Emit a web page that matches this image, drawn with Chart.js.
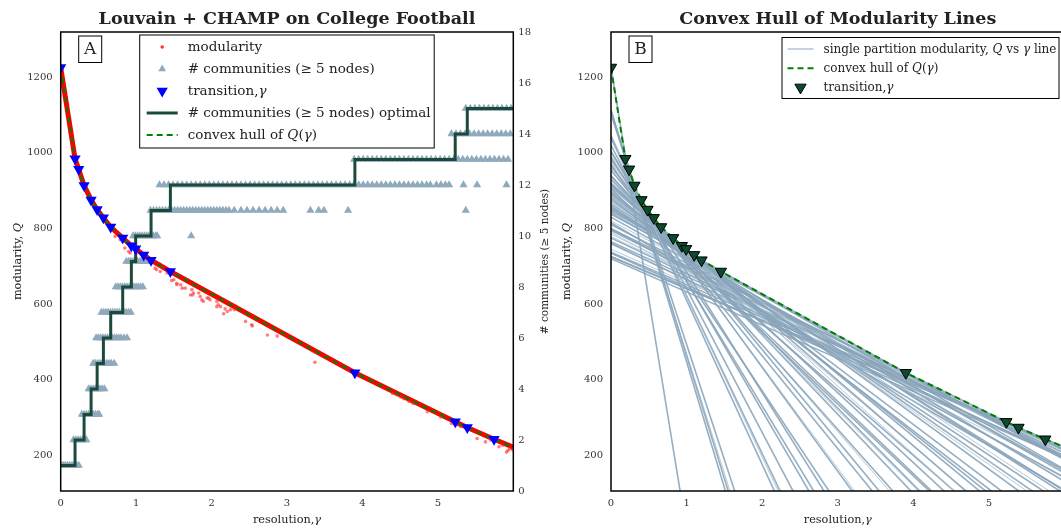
<!DOCTYPE html>
<html>
<head>
<meta charset="utf-8">
<title>Louvain + CHAMP on College Football</title>
<script src="https://cdn.jsdelivr.net/npm/chart.js@4/dist/chart.umd.min.js"></script>
<style>
  html, body { margin: 0; padding: 0; background: #fff; overflow: hidden; }
  #chartA { position: absolute; left: 0; top: 0; }
  #chartB { position: absolute; left: 555px; top: 0; }
</style>
</head>
<body>
<canvas id="chartA" width="555" height="528"></canvas>
<canvas id="chartB" width="520" height="528"></canvas>
<script>
// ---- values ----
const xTicks = [0, 1, 2, 3, 4, 5];
const qTicks = [200, 400, 600, 800, 1000, 1200];
const countTicks = [0, 2, 4, 6, 8, 10, 12, 14, 16, 18];

// transitions of the optimal partition (resolution, modularity)
const transGamma = [0, 0.19, 0.239, 0.31, 0.403, 0.483, 0.566, 0.663, 0.822, 0.937, 0.994, 1.10, 1.198, 1.454, 3.90, 5.23, 5.39, 5.745];
const transQ = [1226, 984.5, 956.5, 913.8, 875.5, 850, 828, 803.8, 775, 754.2, 746, 730, 716, 686, 418, 288, 273, 242];
const hullEndGamma = 6.0;
const hullEndQ = 221;

// number of communities (>= 5 nodes) of the optimal partition
const stepGamma = [0, 0.19, 0.31, 0.403, 0.483, 0.566, 0.663, 0.822, 0.937, 0.994, 1.198, 1.454, 3.90, 5.23, 5.39, 6.0];
const stepCount = [1, 2, 3, 4, 5, 6, 7, 8, 9, 10, 11, 12, 13, 14, 15, 15];

// resolutions of the Louvain runs, grouped by number of communities found
const comm1 = [0, 0.03, 0.06, 0.09, 0.12, 0.15, 0.18, 0.21, 0.24];
const comm2 = [0.17, 0.20, 0.23, 0.26, 0.29, 0.32, 0.34];
const comm3 = [0.28, 0.31, 0.34, 0.37, 0.40, 0.43, 0.46, 0.49, 0.51];
const comm4 = [0.37, 0.40, 0.43, 0.46, 0.49, 0.52, 0.55, 0.58];
const comm5 = [0.43, 0.46, 0.49, 0.52, 0.55, 0.58, 0.61, 0.64, 0.67, 0.71];
const comm6 = [0.47, 0.50, 0.53, 0.56, 0.59, 0.62, 0.65, 0.68, 0.71, 0.74, 0.77, 0.80, 0.84, 0.88];
const comm7 = [0.54, 0.57, 0.60, 0.63, 0.66, 0.69, 0.72, 0.75, 0.78, 0.81, 0.84, 0.87, 0.90, 0.93];
const comm8 = [0.73, 0.76, 0.79, 0.82, 0.85, 0.88, 0.91, 0.94, 0.97, 1.00, 1.03, 1.06, 1.09];
const comm9 = [0.87, 0.90, 0.93, 0.96, 0.99, 1.02, 1.05, 1.08, 1.11, 1.14, 1.17, 1.21];
const comm10 = [0.96, 0.99, 1.02, 1.05, 1.08, 1.11, 1.14, 1.17, 1.20, 1.23, 1.26, 1.28, 1.73];
const comm11 = [1.19, 1.23, 1.27, 1.31, 1.35, 1.39, 1.43, 1.47, 1.51, 1.55, 1.59, 1.63, 1.67, 1.71, 1.75,
  1.79, 1.83, 1.87, 1.91, 1.95, 1.99, 2.03, 2.07, 2.11, 2.15, 2.19, 2.23, 2.30,
  2.39, 2.47, 2.55, 2.63, 2.71, 2.79, 2.87, 2.95, 3.31, 3.42, 3.49, 3.81, 5.37];
const comm12 = [1.31, 1.37, 1.43, 1.49, 1.55, 1.61, 1.67, 1.73, 1.79, 1.85, 1.91, 1.97, 2.03, 2.09, 2.15,
  2.21, 2.27, 2.33, 2.39, 2.45, 2.51, 2.57, 2.63, 2.69, 2.75, 2.81, 2.87, 2.93, 2.99, 3.05, 3.11,
  3.17, 3.23, 3.29, 3.35, 3.41, 3.47, 3.53, 3.59, 3.65, 3.71, 3.77, 3.83, 3.89, 3.95, 4.01, 4.07,
  4.13, 4.19, 4.25, 4.31, 4.37, 4.43, 4.49, 4.55, 4.61, 4.67, 4.73, 4.79, 4.85, 4.90,
  4.98, 5.04, 5.10, 5.15, 5.34, 5.52, 5.91];
const comm13 = [3.89, 3.95, 4.01, 4.07, 4.13, 4.19, 4.25, 4.31, 4.37, 4.43, 4.49, 4.55, 4.61, 4.67, 4.73,
  4.79, 4.85, 4.91, 4.97, 5.03, 5.09, 5.15, 5.21, 5.27, 5.33, 5.39, 5.45, 5.51, 5.57, 5.63, 5.69,
  5.75, 5.81, 5.87, 5.93];
const comm14 = [5.18, 5.24, 5.30, 5.36, 5.42, 5.48, 5.54, 5.60, 5.66, 5.72, 5.78, 5.84, 5.90, 5.96];
const comm15 = [5.37, 5.43, 5.49, 5.55, 5.61, 5.67, 5.73, 5.79, 5.85, 5.91, 5.97];

// Louvain runs that ended below the hull
const modGamma = [0.72, 0.79, 0.85, 0.90, 0.92, 1.25, 1.27, 1.32, 1.41, 1.47, 1.50, 1.54, 1.54, 1.59, 1.61,
  1.65, 1.72, 1.74, 1.75, 1.76, 1.83, 1.85, 1.87, 1.89, 1.94, 1.96, 1.98, 2.07, 2.07, 2.09, 2.12,
  2.16, 2.18, 2.21, 2.25, 2.30, 2.45, 2.53, 2.54, 2.74, 2.87, 3.37, 4.40, 4.45, 4.51, 4.55, 4.62,
  4.67, 4.86, 5.04, 5.18, 5.25, 5.30, 5.52, 5.63, 5.70, 5.81, 5.86, 5.91, 5.93, 5.95, 5.99];
const modQ = [779, 770, 748, 739, 735, 695, 691, 686, 682, 662, 664, 655, 651, 651, 642,
  642, 624, 638, 624, 629, 629, 620, 611, 607, 616, 616, 611, 607, 593, 598, 593,
  574, 587, 580, 585, 585, 554, 545, 542, 518, 515, 446, 363, 360, 354, 349, 342,
  337, 315, 301, 284, 280, 276, 244, 235, 240, 222, 226, 208, 212, 217, 214];

// single partitions: Q(gamma) = partA - gamma * partP
const partA = [1226, 1113, 1103, 1046, 1003, 982, 963.5, 922.6, 916.8, 909.4, 890, 884, 854.5, 846.3, 799, 778.3, 737.1, 725,
  1113, 1103, 1045, 1040, 1003, 975, 955, 940, 930, 918, 915, 905, 895, 900, 880, 885, 860, 870,
  850, 842, 838, 820, 830, 810, 795, 785, 775, 765, 760, 745, 735, 726, 720, 762, 800, 855, 815, 790,
  970, 990, 1020, 952, 938, 920, 898, 875, 874, 865];
const partP = [1226, 650, 610, 425.6, 318.8, 275, 242, 180, 173, 165, 145.5, 140, 115.4, 109.8, 97.7, 93.75, 86.1, 84,
  666, 634, 435, 418, 343, 270, 246, 224, 202, 200, 191, 190, 174, 169, 154, 151, 132, 132,
  120, 115, 108, 105, 112, 102, 100, 96, 95, 92, 95, 88, 90, 85, 88, 100, 110, 125, 118, 108,
  300, 330, 380, 230, 210, 185, 160, 140, 138, 128];

// ---- drawing ----
const SERIF = '"DejaVu Serif", serif';
Chart.defaults.font.family = SERIF;
Chart.defaults.color = '#333';

const pts = (xs, ys) => xs.map((x, i) => ({ x: x, y: ys[i] }));
const hullPts = pts(transGamma.concat([hullEndGamma]), transQ.concat([hullEndQ]));
const commLevels = [comm1, comm2, comm3, comm4, comm5, comm6, comm7, comm8, comm9, comm10, comm11, comm12, comm13, comm14, comm15];
const commPts = commLevels.flatMap((gs, i) => gs.map(g => ({ x: g, y: i + 1 })));

const GRAY = '#8fa9bd';
const DARK = '#1b4a3a';

function xScale() {
  return {
    type: 'linear', min: 0, max: 6.0,
    afterBuildTicks: s => { s.ticks = xTicks.map(v => ({ value: v })); },
    afterFit: s => { s.height = 37; },
    grid: { display: false, drawTicks: false }, border: { display: false },
    ticks: { font: { size: 10 }, color: '#333', padding: 6, callback: v => v }
  };
}
function qScale(width) {
  return {
    type: 'linear', position: 'left', min: 105, max: 1320,
    afterBuildTicks: s => { s.ticks = qTicks.map(v => ({ value: v })); },
    afterFit: s => { s.width = width; },
    grid: { display: false, drawTicks: false }, border: { display: false },
    ticks: { font: { size: 10 }, color: '#333', padding: 8, callback: v => v }
  };
}

function textWidth(ctx, parts, size) {
  let w = 0;
  parts.forEach(p => {
    ctx.font = (p[1] ? 'italic ' : '') + size + 'px ' + SERIF;
    w += ctx.measureText(p[0]).width;
  });
  return w;
}
function richText(ctx, parts, x, y, size) {
  let cx = x;
  parts.forEach(p => {
    ctx.font = (p[1] ? 'italic ' : '') + size + 'px ' + SERIF;
    ctx.fillText(p[0], cx, y);
    cx += ctx.measureText(p[0]).width;
  });
}
function centeredText(ctx, parts, x, y, size, rotate) {
  ctx.save();
  ctx.translate(x, y);
  if (rotate) ctx.rotate(-Math.PI / 2);
  ctx.textAlign = 'left'; ctx.textBaseline = 'middle'; ctx.fillStyle = '#222';
  richText(ctx, parts, -textWidth(ctx, parts, size) / 2, 0, size);
  ctx.restore();
}

function sample(ctx, kind, x0, x1, y) {
  const xm = (x0 + x1) / 2;
  ctx.save();
  ctx.setLineDash([]);
  if (kind === 'dot') {
    ctx.fillStyle = 'rgba(255,0,0,0.8)';
    Chart.helpers.drawPoint(ctx, { pointStyle: 'circle', radius: 1.8, borderWidth: 0 }, xm, y);
  } else if (kind === 'tri') {
    ctx.fillStyle = GRAY;
    Chart.helpers.drawPoint(ctx, { pointStyle: 'triangle', radius: 4.5, borderWidth: 0 }, xm, y);
  } else if (kind === 'triBlue') {
    ctx.fillStyle = '#0000ff';
    Chart.helpers.drawPoint(ctx, { pointStyle: 'triangle', rotation: 180, radius: 6.5, borderWidth: 0 }, xm, y);
  } else if (kind === 'triDark') {
    ctx.fillStyle = '#0b4a2c'; ctx.strokeStyle = '#000'; ctx.lineWidth = 1;
    Chart.helpers.drawPoint(ctx, { pointStyle: 'triangle', rotation: 180, radius: 6.5, borderWidth: 1 }, xm, y);
  } else {
    ctx.beginPath(); ctx.moveTo(x0, y); ctx.lineTo(x1, y);
    if (kind === 'thick') { ctx.strokeStyle = DARK; ctx.lineWidth = 3; }
    if (kind === 'dash') { ctx.strokeStyle = '#008000'; ctx.lineWidth = 2; ctx.setLineDash([6, 4]); }
    if (kind === 'thin') { ctx.strokeStyle = '#9fb6c8'; ctx.lineWidth = 1.2; }
    ctx.stroke();
  }
  ctx.restore();
}

function decor(cfg) {
  return {
    id: 'decor' + cfg.letter,
    afterDraw(chart) {
      const ctx = chart.ctx, a = chart.chartArea;
      ctx.save();
      ctx.strokeStyle = '#000'; ctx.lineWidth = 1.5;
      ctx.strokeRect(a.left, a.top, a.right - a.left, a.bottom - a.top);
      // title
      ctx.fillStyle = '#222'; ctx.textAlign = 'center'; ctx.textBaseline = 'middle';
      ctx.font = 'bold 17.5px ' + SERIF;
      ctx.fillText(cfg.title, (a.left + a.right) / 2, 19.5);
      // axis titles
      centeredText(ctx, [['resolution,'], ['γ', true]], (a.left + a.right) / 2, 520, 11.3, false);
      centeredText(ctx, [['modularity, '], ['Q', true]], cfg.yTitleX, (a.top + a.bottom) / 2, 11.3, true);
      if (cfg.rightTitle) {
        centeredText(ctx, [[cfg.rightTitle]], a.right + 32, (a.top + a.bottom) / 2, 10.5, true);
      }
      // panel letter
      ctx.fillStyle = '#fff'; ctx.lineWidth = 1;
      ctx.fillRect(a.left + 18, a.top + 4, 23, 26.5);
      ctx.strokeRect(a.left + 18, a.top + 4, 23, 26.5);
      ctx.fillStyle = '#222'; ctx.font = '17px ' + SERIF;
      ctx.textAlign = 'center'; ctx.textBaseline = 'middle';
      ctx.fillText(cfg.letter, a.left + 29.5, a.top + 17.5);
      // legend
      const L = cfg.legend;
      const bx = a.left + L.dx, by = a.top + L.dy;
      ctx.fillStyle = '#fff';
      ctx.fillRect(bx, by, L.w, L.h);
      ctx.strokeRect(bx, by, L.w, L.h);
      ctx.textAlign = 'left';
      L.items.forEach((it, i) => {
        const y = by + L.first + i * L.step;
        sample(ctx, it.kind, bx + L.s0, bx + L.s1, y);
        ctx.fillStyle = '#222';
        richText(ctx, it.parts, bx + L.tx, y + 0.5, L.size);
      });
      ctx.restore();
    }
  };
}

// ---- panel A ----
new Chart(document.getElementById('chartA'), {
  type: 'scatter',
  data: {
    datasets: [
      { label: 'transition', data: pts(transGamma, transQ), pointStyle: 'triangle', rotation: 180,
        pointRadius: 6.5, backgroundColor: '#0000ff', borderWidth: 0, order: 1, clip: 0 },
      { label: 'convex hull', data: hullPts, showLine: true, borderColor: '#008000', borderWidth: 2,
        borderDash: [6, 4], pointRadius: 0, order: 2, clip: 0 },
      { label: 'modularity', data: pts(modGamma, modQ), pointRadius: 1.8, backgroundColor: 'rgba(255,40,40,0.6)',
        borderWidth: 0, order: 3, clip: 0 },
      { label: 'modularity runs on hull', data: hullPts, showLine: true, borderColor: '#ff0000', borderWidth: 5,
        pointRadius: 0, order: 4, clip: 0 },
      { label: 'optimal', data: pts(stepGamma, stepCount), yAxisID: 'y2', showLine: true, stepped: 'before',
        borderColor: DARK, borderWidth: 3, pointRadius: 0, order: 5, clip: 0 },
      { label: '# communities', data: commPts, yAxisID: 'y2', pointStyle: 'triangle', pointRadius: 4.7,
        backgroundColor: GRAY, borderWidth: 0, order: 6, clip: 0 }
    ]
  },
  options: {
    responsive: false, animation: false, events: [],
    layout: { padding: { top: 32, left: 0, right: 0, bottom: 0 } },
    plugins: { legend: { display: false }, tooltip: { enabled: false } },
    scales: {
      x: xScale(),
      y: qScale(60.7),
      y2: {
        type: 'linear', position: 'right', min: 0, max: 18,
        afterBuildTicks: s => { s.ticks = countTicks.map(v => ({ value: v })); },
        afterFit: s => { s.width = 41.7; },
        grid: { display: false, drawTicks: false }, border: { display: false },
        ticks: { font: { size: 10 }, color: '#333', padding: 5, callback: v => v }
      }
    }
  },
  plugins: [decor({
    letter: 'A', title: 'Louvain + CHAMP on College Football', yTitleX: 18,
    rightTitle: '# communities (≥ 5 nodes)',
    legend: {
      dx: 79, dy: 3, w: 294.5, h: 113, first: 12, step: 22, s0: 7, s1: 38, tx: 48, size: 13.5,
      items: [
        { kind: 'dot', parts: [['modularity']] },
        { kind: 'tri', parts: [['# communities (≥ 5 nodes)']] },
        { kind: 'triBlue', parts: [['transition,'], ['γ', true]] },
        { kind: 'thick', parts: [['# communities (≥ 5 nodes) optimal']] },
        { kind: 'dash', parts: [['convex hull of '], ['Q', true], ['('], ['γ', true], [')']] }
      ]
    }
  })]
});

// ---- panel B ----
const lineSets = partA.map((A, i) => ({
  label: 'partition ' + i,
  data: [{ x: 0, y: A }, { x: 6, y: A - 6 * partP[i] }],
  showLine: true, pointRadius: 0, order: 3, clip: 0,
  borderColor: i % 4 === 3 ? 'rgba(170,192,208,0.85)' : 'rgba(138,165,187,0.9)',
  borderWidth: i % 4 === 3 ? 1 : 1.6
}));

new Chart(document.getElementById('chartB'), {
  type: 'scatter',
  data: {
    datasets: [
      { label: 'transition', data: pts(transGamma, transQ), pointStyle: 'triangle', rotation: 180,
        pointRadius: 6.5, backgroundColor: '#0b4a2c', borderColor: '#000', borderWidth: 1, order: 1, clip: 0 },
      { label: 'convex hull', data: hullPts, showLine: true, borderColor: '#008000', borderWidth: 2,
        borderDash: [6, 4], pointRadius: 0, order: 2, clip: 0 }
    ].concat(lineSets)
  },
  options: {
    responsive: false, animation: false, events: [],
    layout: { padding: { top: 32, left: 0, right: 10.4, bottom: 0 } },
    plugins: { legend: { display: false }, tooltip: { enabled: false } },
    scales: { x: xScale(), y: qScale(56) }
  },
  plugins: [decor({
    letter: 'B', title: 'Convex Hull of Modularity Lines', yTitleX: 12,
    legend: {
      dx: 171, dy: 5.5, w: 277, h: 61, first: 11.5, step: 19.2, s0: 5.5, s1: 31.5, tx: 41.5, size: 12,
      items: [
        { kind: 'thin', parts: [['single partition modularity, '], ['Q', true], [' vs '], ['γ', true], [' line']] },
        { kind: 'dash', parts: [['convex hull of '], ['Q', true], ['('], ['γ', true], [')']] },
        { kind: 'triDark', parts: [['transition,'], ['γ', true]] }
      ]
    }
  })]
});
</script>
</body>
</html>
